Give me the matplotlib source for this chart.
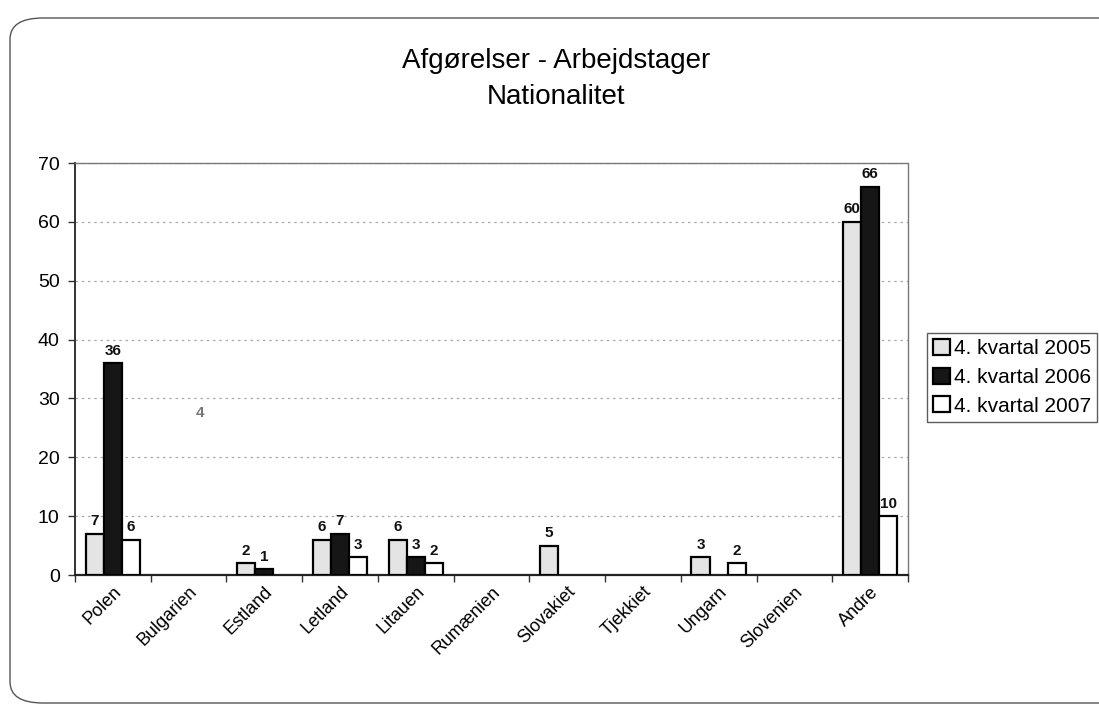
import matplotlib
matplotlib.use("Agg")
import matplotlib.pyplot as plt
import numpy as np
from matplotlib.patches import FancyBboxPatch

plt.rcParams['font.family'] = ['Liberation Sans', 'DejaVu Sans']

categories = ["Polen", "Bulgarien", "Estland", "Letland", "Litauen", "Rumænien",
              "Slovakiet", "Tjekkiet", "Ungarn", "Slovenien", "Andre"]
series_names = ["4. kvartal 2005", "4. kvartal 2006", "4. kvartal 2007"]
q4_2005 = [7, 0, 2, 6, 6, 0, 5, 0, 3, 0, 60]
q4_2006 = [36, 0, 1, 7, 3, 0, 0, 0, 0, 0, 66]
q4_2007 = [6, 0, 0, 3, 2, 0, 0, 0, 2, 0, 10]
yticks = [0, 10, 20, 30, 40, 50, 60, 70]
title = "Afgørelser - Arbejdstager\nNationalitet"
# stray data label visible in the scanned chart near Bulgarien
stray_label = ("Bulgarien", "4", 27.5)

colors = ["#e4e4e4", "#161616", "#ffffff"]

fig = plt.figure(figsize=(10.99, 7.08), dpi=100)

# outer rounded frame
frame = FancyBboxPatch((10 / 1099, 5 / 708), 1.2, 685 / 708,
                       boxstyle="round,pad=0,rounding_size=0.03",
                       transform=fig.transFigure, fill=False,
                       edgecolor="#555555", linewidth=1.0, clip_on=False)
fig.patches.append(frame)

ax = fig.add_axes([75 / 1099, 1 - 575 / 708, 833 / 1099, 412 / 708])
x = np.arange(len(categories))
w = 0.24
all_series = [q4_2005, q4_2006, q4_2007]
for i, (vals, name, c) in enumerate(zip(all_series, series_names, colors)):
    vals_arr = np.array(vals, dtype=float)
    mask = vals_arr > 0
    bars = ax.bar(x[mask] + (i - 1) * w, vals_arr[mask], width=w, color=c,
                  edgecolor="black", linewidth=1.6, label=name, zorder=3)
    ax.bar_label(bars, labels=[str(int(v)) for v in vals_arr[mask]], padding=4,
                 fontsize=11, fontweight="bold", color="#111111", zorder=4)

ci = categories.index(stray_label[0])
ax.text(ci + 0.15, stray_label[2], stray_label[1], fontsize=11, fontweight="bold",
        color="#777777", ha="center", va="center")

ax.set_xlim(-0.5, len(categories) - 0.5)
ax.set_ylim(0, 70)
ax.set_yticks(yticks)
ax.set_yticklabels([str(t) for t in yticks], fontsize=14)
ax.tick_params(axis="y", length=5, width=1, color="#333333", pad=6)
ax.set_xticks(x)
ax.set_xticklabels(categories, rotation=45, ha="right", va="top",
                   rotation_mode="anchor", fontsize=13)
ax.set_xticks(np.arange(len(categories) + 1) - 0.5, minor=True)
ax.tick_params(axis="x", which="major", length=0, pad=6)
ax.tick_params(axis="x", which="minor", length=5, width=1, color="#333333")

ax.yaxis.grid(True, color="#aaaaaa", linestyle=(0, (2, 3)), linewidth=0.9, zorder=0)
ax.set_axisbelow(True)
for side in ["top", "right"]:
    ax.spines[side].set_color("#777777")
    ax.spines[side].set_linewidth(1.0)
    ax.spines[side].set_linestyle((0, (3, 1)))
ax.spines["left"].set_color("#333333")
ax.spines["left"].set_linewidth(1.4)
ax.spines["bottom"].set_color("#222222")
ax.spines["bottom"].set_linewidth(1.6)

fig.text(556 / 1099, 1 - 79 / 708, title, ha="center", va="center",
         fontsize=20, linespacing=1.45)

leg = ax.legend(loc="upper left", bbox_to_anchor=(927 / 1099, 1 - 333 / 708),
                bbox_transform=fig.transFigure, fontsize=15, frameon=True,
                fancybox=False, edgecolor="#333333", handlelength=0.8,
                handleheight=0.8, handletextpad=0.2, borderpad=0.3,
                labelspacing=0.45, borderaxespad=0)
leg.get_frame().set_linewidth(1.0)

fig.savefig("out.png", dpi=100)
